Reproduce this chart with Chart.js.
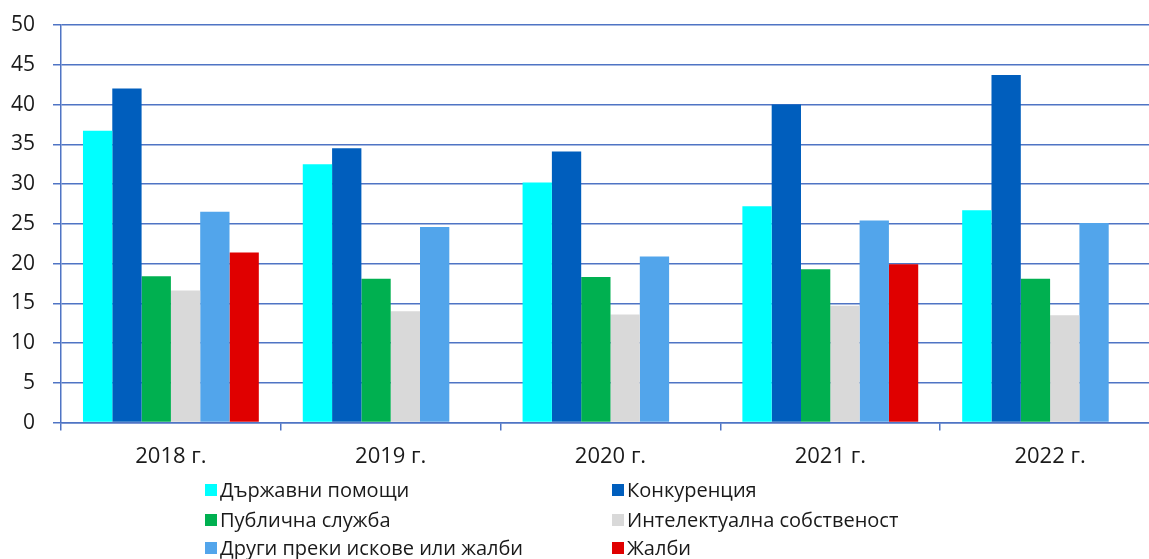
<!DOCTYPE html>
<html>
<head>
<meta charset="utf-8">
<script src="https://cdn.jsdelivr.net/npm/chart.js@4"></script>
<style>
  html, body { margin: 0; padding: 0; background: #fff; overflow: hidden; }
  #wrap { position: relative; width: 1170px; height: 559px; }
  #legend { position: absolute; left: 0; top: 0; font-family: "Open Sans", sans-serif; font-size: 20px; color: #1a1a1a; }
  .item { position: absolute; white-space: nowrap; display: flex; align-items: center; }
  .box { width: 12px; height: 12px; margin-right: 3px; }
</style>
</head>
<body>
<div id="wrap">
  <canvas id="barChart" width="1170" height="559"></canvas>
  <div id="legend"></div>
</div>
<script>
const years = ["2018 г.", "2019 г.", "2020 г.", "2021 г.", "2022 г."];
const seriesNames = ["Държавни помощи", "Конкуренция", "Публична служба", "Интелектуална собственост", "Други преки искове или жалби", "Жалби"];
const stateAid = [36.7, 32.5, 30.2, 27.2, 26.7];
const competition = [42.0, 34.5, 34.1, 40.0, 43.7];
const civilService = [18.4, 18.1, 18.3, 19.3, 18.1];
const intellectualProperty = [16.6, 14.0, 13.6, 14.7, 13.5];
const otherActions = [26.5, 24.6, 20.9, 25.4, 25.1];
const appeals = [21.4, null, null, 19.9, null];
const colors = ["#00FFFF", "#005EBD", "#00B050", "#D9D9D9", "#52A5EB", "#E00000"];

const seriesValues = [stateAid, competition, civilService, intellectualProperty, otherActions, appeals];

const ctx = document.getElementById("barChart").getContext("2d");
new Chart(ctx, {
    type: "bar",
    data: {
        labels: years,
        datasets: seriesValues.map((vals, i) => ({
            label: seriesNames[i],
            data: vals,
            backgroundColor: colors[i],
            categoryPercentage: 0.8,
            barPercentage: 1.0,
        }))
    },
    options: {
        responsive: false,
        animation: false,
        layout: { padding: { top: 25, right: 10, bottom: 76, left: 0 } },
        plugins: { legend: { display: false }, tooltip: { enabled: false } },
        scales: {
            x: {
                grid: { drawOnChartArea: false, offset: true, tickLength: 8, color: "#4f74c4", lineWidth: 1.5 },
                border: { color: "#4f74c4", width: 1.5 },
                ticks: { padding: 13, color: "#1a1a1a", font: { family: "Open Sans", size: 22 } }
            },
            y: {
                min: 0,
                max: 50,
                afterFit: function (scale) {
                    scale.width = 61;
                    scale.paddingTop = 0;
                    scale.paddingBottom = 0;
                },
                grid: { color: "#4f74c4", lineWidth: 1.5, tickLength: 8 },
                border: { color: "#4f74c4", width: 1.5 },
                ticks: { stepSize: 5, padding: 18, color: "#1a1a1a", font: { family: "Open Sans", size: 21 } }
            }
        }
    }
});

// two column legend below the chart
const legendPos = [[205, 490], [612, 490], [205, 520], [612, 520], [205, 548], [612, 548]];
const legendEl = document.getElementById("legend");
seriesNames.forEach((name, i) => {
    const div = document.createElement("div");
    div.className = "item";
    div.style.left = legendPos[i][0] + "px";
    div.style.top = (legendPos[i][1] - 14) + "px";
    div.innerHTML = '<span class="box" style="background:' + colors[i] + '"></span><span>' + name + '</span>';
    legendEl.appendChild(div);
});
</script>
</body>
</html>
